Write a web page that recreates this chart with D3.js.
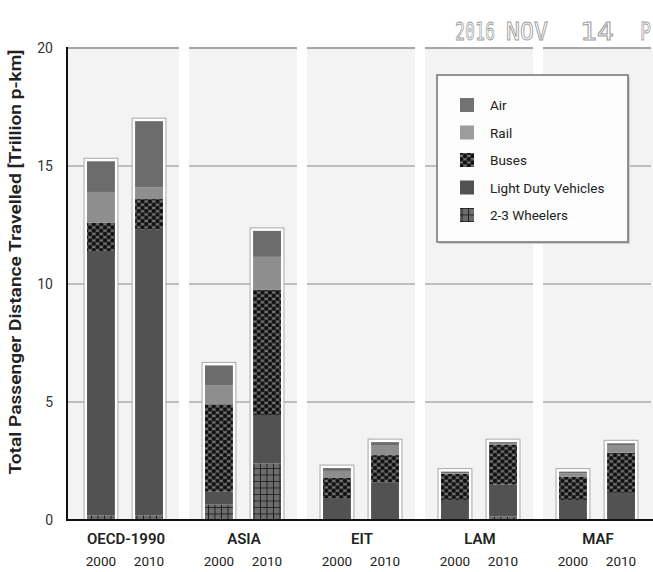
<!DOCTYPE html>
<html>
<head>
<meta charset="utf-8">
<script src="https://cdn.jsdelivr.net/npm/d3@7/dist/d3.min.js"></script>
<style>
  html, body { margin: 0; padding: 0; background: #ffffff; }
  svg { display: block; }
</style>
</head>
<body>
<svg id="chart" width="653" height="572"></svg>
<script>
// Regions, years and transport modes (stack order bottom -> top)
const regions = ["OECD-1990", "ASIA", "EIT", "LAM", "MAF"];
const years = ["2000", "2010"];
const modes = ["2-3 Wheelers", "Light Duty Vehicles", "Buses", "Rail", "Air"];
const legendOrder = ["Air", "Rail", "Buses", "Light Duty Vehicles", "2-3 Wheelers"];
const yTicks = [0, 5, 10, 15, 20];

// Passenger distance by mode [trillion p-km]; one entry per region/year bar
// order: OECD 2000, OECD 2010, ASIA 2000, ASIA 2010, EIT 2000, EIT 2010, LAM 2000, LAM 2010, MAF 2000, MAF 2010
const wheelers = [0.2, 0.2, 0.65, 2.4, 0, 0, 0, 0.15, 0, 0];
const ldv      = [11.2, 12.1, 0.55, 2.05, 0.93, 1.6, 0.85, 1.35, 0.85, 1.15];
const buses    = [1.2, 1.3, 3.7, 5.3, 0.85, 1.15, 1.1, 1.7, 0.98, 1.7];
const rail     = [1.3, 0.5, 0.8, 1.4, 0.3, 0.4, 0.03, 0.03, 0.15, 0.3];
const air      = [1.3, 2.8, 0.85, 1.1, 0.12, 0.15, 0.07, 0.07, 0.07, 0.1];

const rows = [];
regions.forEach((r, i) => years.forEach((yr, j) => {
  const k = i * 2 + j;
  rows.push({
    region: r, year: yr,
    "2-3 Wheelers": wheelers[k], "Light Duty Vehicles": ldv[k],
    "Buses": buses[k], "Rail": rail[k], "Air": air[k]
  });
}));

const svg = d3.select("#chart");
const font = "Roboto, 'Open Sans', sans-serif";

const plotTop = 48, plotBottom = 520, plotLeft = 67, plotRight = 653;

const x0 = d3.scaleBand().domain(regions).range([66, 656]).padding(0);
const x1 = d3.scaleBand().domain(years).range([0, x0.bandwidth()])
  .paddingInner(0.42).paddingOuter(0.4375);
const y = d3.scaleLinear().domain([0, 20]).range([plotBottom, plotTop]);

// Fill patterns
const defs = svg.append("defs");
const dots = defs.append("pattern").attr("id", "pBuses")
  .attr("patternUnits", "userSpaceOnUse").attr("width", 7.5).attr("height", 6.5);
dots.append("rect").attr("width", 7.5).attr("height", 6.5).attr("fill", "#7c7c7c");
[[0, 0], [7.5, 0], [0, 6.5], [7.5, 6.5], [3.75, 3.25]].forEach(([cx, cy]) =>
  dots.append("circle").attr("cx", cx).attr("cy", cy).attr("r", 2.3).attr("fill", "#111"));

const grid = defs.append("pattern").attr("id", "pWheel")
  .attr("patternUnits", "userSpaceOnUse").attr("width", 6.5).attr("height", 6.5);
grid.append("rect").attr("width", 6.5).attr("height", 6.5).attr("fill", "#6c6c6c");
grid.append("path").attr("d", "M0,0H6.5M0,0V6.5").attr("stroke", "#111").attr("stroke-width", 1.6);

const fills = {
  "Air": "#6c6c6c",
  "Rail": "#8e8e8e",
  "Buses": "url(#pBuses)",
  "Light Duty Vehicles": "#525252",
  "2-3 Wheelers": "url(#pWheel)"
};
const legendFills = Object.assign({}, fills, { "Air": "#727272", "Rail": "#9c9c9c" });

// Plot background with white separators between region groups
svg.append("rect").attr("x", plotLeft).attr("y", plotTop)
  .attr("width", plotRight - plotLeft).attr("height", plotBottom - plotTop)
  .attr("fill", "#f3f3f3");
regions.slice(1).forEach(r => {
  svg.append("rect").attr("x", x0(r) - 5).attr("y", plotTop - 2)
    .attr("width", 10).attr("height", plotBottom - plotTop + 2).attr("fill", "#ffffff");
});

// Horizontal gridlines, broken at the group separators
const gridG = svg.append("g");
yTicks.filter(t => t > 0).forEach(t => {
  regions.forEach((r, i) => {
    const xa = i === 0 ? plotLeft : x0(r) + 5;
    const xb = Math.min(x0(r) + x0.bandwidth() - 5, plotRight);
    gridG.append("line").attr("x1", xa).attr("x2", xb)
      .attr("y1", y(t)).attr("y2", y(t))
      .attr("stroke", "#8a8a8a").attr("stroke-width", t === 20 ? 1.6 : 1.2);
  });
});

// Stacked bars
const stack = d3.stack().keys(modes);
const series = stack(rows);

const barG = svg.append("g");
rows.forEach(d => {
  const total = modes.reduce((s, m) => s + d[m], 0);
  const bx = x0(d.region) + x1(d.year);
  barG.append("rect")
    .attr("x", bx - 3).attr("y", y(total) - 3)
    .attr("width", x1.bandwidth() + 6).attr("height", y(0) - y(total) + 3)
    .attr("fill", "#ffffff").attr("stroke", "#a8a8a8").attr("stroke-width", 1);
});
series.forEach(s => {
  barG.selectAll(null).data(s).join("rect")
    .attr("x", d => x0(d.data.region) + x1(d.data.year))
    .attr("y", d => y(d[1]))
    .attr("width", x1.bandwidth())
    .attr("height", d => Math.max(0, y(d[0]) - y(d[1])))
    .attr("fill", fills[s.key]);
});

// Axes
const yAxis = d3.axisLeft(y).tickValues(yTicks).tickSize(0).tickPadding(14);
const yG = svg.append("g").attr("transform", `translate(${plotLeft},0)`).call(yAxis);
yG.select(".domain").remove();
yG.selectAll("text").attr("font-family", font).attr("font-size", 14).attr("fill", "#333");

svg.append("line").attr("x1", plotLeft).attr("x2", plotLeft)
  .attr("y1", plotTop - 1).attr("y2", plotBottom + 1)
  .attr("stroke", "#111").attr("stroke-width", 2);
svg.append("line").attr("x1", plotLeft - 1).attr("x2", plotRight)
  .attr("y1", plotBottom).attr("y2", plotBottom)
  .attr("stroke", "#111").attr("stroke-width", 2.2);

// Region and year labels
const xAxis = d3.axisBottom(x0).tickSize(0).tickPadding(13);
const xG = svg.append("g").attr("transform", `translate(0,${plotBottom})`).call(xAxis);
xG.select(".domain").remove();
xG.selectAll("text").attr("font-family", font).attr("font-size", 15)
  .attr("font-weight", 600).attr("fill", "#222").attr("dx", 1);

regions.forEach(r => years.forEach(yr => {
  svg.append("text")
    .attr("x", x0(r) + x1(yr) + x1.bandwidth() / 2)
    .attr("y", 566)
    .attr("text-anchor", "middle")
    .attr("font-family", font).attr("font-size", 13.5).attr("fill", "#222")
    .text(yr);
}));

// Y-axis title
svg.append("text")
  .attr("transform", "translate(21,262) rotate(-90)")
  .attr("text-anchor", "middle")
  .attr("font-family", font).attr("font-size", 16).attr("font-weight", 600)
  .attr("fill", "#222")
  .attr("textLength", 425).attr("lengthAdjust", "spacingAndGlyphs")
  .text("Total Passenger Distance Travelled [Trillion p-km]");

// Legend
const lg = svg.append("g");
lg.append("rect").attr("x", 439).attr("y", 77).attr("width", 191).attr("height", 167)
  .attr("fill", "#cfcfcf");
lg.append("rect").attr("x", 437).attr("y", 75).attr("width", 191).attr("height", 167)
  .attr("fill", "#fcfcfc").attr("stroke", "#7a7a7a").attr("stroke-width", 1.6);
legendOrder.forEach((m, i) => {
  const cy = 105 + i * 27.5;
  lg.append("rect").attr("x", 460).attr("y", cy - 7).attr("width", 14).attr("height", 14)
    .attr("fill", legendFills[m]);
  lg.append("text").attr("x", 490).attr("y", cy + 5)
    .attr("font-family", font).attr("font-size", 13.5).attr("fill", "#222")
    .text(m);
});

// Date stamp in the top corner (tall, narrow outlined characters)
const stamp = svg.append("g").attr("font-family", "'DejaVu Sans Mono', monospace")
  .attr("font-size", 19).attr("fill", "#ffffff").attr("stroke", "#9a9a9a")
  .attr("stroke-width", 0.7);
[["2016", 455, 40], ["NOV", 506, 42], ["14", 580, 34], ["P", 640, 11]].forEach(([t, sx, w]) => {
  stamp.append("text")
    .attr("transform", `translate(${sx},40) scale(1,1.35)`)
    .attr("textLength", w).attr("lengthAdjust", "spacingAndGlyphs").text(t);
});
</script>
</body>
</html>
